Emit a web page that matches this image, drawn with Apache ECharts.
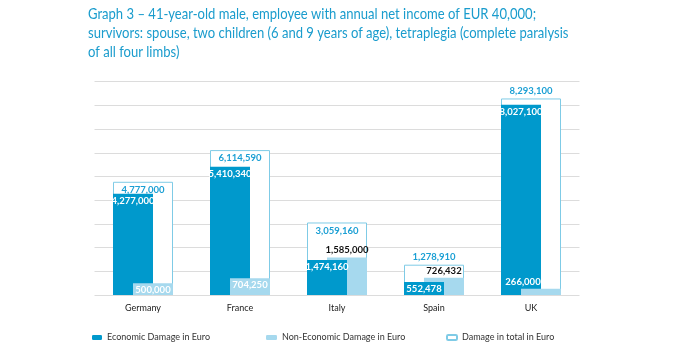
<!DOCTYPE html>
<html><head><meta charset="utf-8">
<script src="https://cdn.jsdelivr.net/npm/echarts@6/dist/echarts.min.js"></script>
<style>html,body{margin:0;padding:0;background:#fff}#c{width:674px;height:350px}</style>
</head><body><div id="c"></div>
<script>
var categories = ['Germany', 'France', 'Italy', 'Spain', 'UK'];
var economic = [4277000, 5410340, 1474160, 552478, 8027100];
var nonEconomic = [500000, 704250, 1585000, 726432, 266000];
var total = [4777000, 6114590, 3059160, 1278910, 8293100];
var seriesNames = ['Economic Damage in Euro', 'Non-Economic Damage in Euro', 'Damage in total in Euro'];
var titleText = 'Graph 3 \u2013 41-year-old male, employee with annual net income of EUR 40,000;\nsurvivors: spouse, two children (6 and 9 years of age), tetraplegia (complete paralysis\nof all four limbs)';

var DARK = '#0099cc', LIGHT = '#a6d9ee', BORDER = '#7fcbe6', TOTALTXT = '#1a9fd4';
function fmt(v){ return v.toLocaleString('en-US'); }

var totalPos = ['insideTop','insideTop','insideTop','top','top'];
var nonEcoStyle = [
  {position:'insideTop', color:'#fff'},
  {position:'insideTop', color:'#fff'},
  {position:'top', color:'#111'},
  {position:'top', color:'#111'},
  {position:'top', color:'#fff', offset:[-18, 0]}
];

// where the economic bar is the smaller one it is painted in front
var econFront = economic.map(function(v,i){ return v < nonEconomic[i] ? v : '-'; });
var econBack = economic.map(function(v,i){ return v < nonEconomic[i] ? {value:v, label:{show:false}} : v; });

var font = 'Lato';
var chart = echarts.init(document.getElementById('c'));
var lbl = function(){ return {show:true, fontSize:9.5, fontWeight:'bold', fontFamily:font, formatter:function(p){return fmt(p.value);}}; };
chart.setOption({
  animation:false,
  graphic:[{type:'text', x:88, y:5, scaleX:0.87, silent:true,
    style:{text:titleText, fill:'#1a9ccd', font:'15px Lato', lineHeight:19}}],
  grid:{left:94.5, width:485, top:81.7, bottom:55},
  legend:[
    {data:[seriesNames[0]], left:87, top:328, itemWidth:10, itemHeight:5, textStyle:{fontSize:9, color:'#333', fontFamily:font}},
    {data:[seriesNames[1]], left:261, top:328, itemWidth:11, itemHeight:5, textStyle:{fontSize:9, color:'#333', fontFamily:font}},
    {data:[seriesNames[2]], left:441, top:328, itemWidth:10, itemHeight:5, textStyle:{fontSize:9, color:'#333', fontFamily:font}}
  ],
  xAxis:[
    {type:'category', data:categories, axisLine:{show:false}, axisTick:{show:false},
     axisLabel:{color:'#222', fontSize:9, fontFamily:font, margin:9}},
    {type:'category', data:categories, show:false},
    {type:'category', data:categories, show:false}
  ],
  yAxis:{type:'value', min:0, max:9000000, interval:1000000, axisLabel:{show:false},
    axisLine:{show:false}, axisTick:{show:false}, splitLine:{lineStyle:{color:'#dcdcdc', width:1}}},
  series:[
    {name:seriesNames[2], type:'bar', xAxisIndex:1, barWidth:60,
     itemStyle:{color:'#fff', borderColor:BORDER, borderWidth:1},
     data: total.map(function(v,i){ return {value:v, label:{position:totalPos[i]}}; }),
     label:Object.assign(lbl(), {color:TOTALTXT, distance:3})},
    {name:seriesNames[0], type:'bar', xAxisIndex:0, barWidth:40, barGap:'-50%',
     itemStyle:{color:DARK},
     data: econBack,
     label:Object.assign(lbl(), {position:'insideTop', color:'#fff', distance:2})},
    {name:seriesNames[1], type:'bar', xAxisIndex:0, barWidth:40, barGap:'-50%',
     itemStyle:{color:LIGHT},
     data: nonEconomic.map(function(v,i){ var s=nonEcoStyle[i]; var l={position:s.position, color:s.color}; if(s.offset) l.offset=s.offset; return {value:v, label:l}; }),
     label:Object.assign(lbl(), {distance:2})},
    {name:seriesNames[0], type:'bar', xAxisIndex:2, barWidth:40, barGap:'-50%',
     itemStyle:{color:DARK},
     data: econFront,
     label:Object.assign(lbl(), {position:'insideTop', color:'#fff', distance:2})},
    {name:'_pad', type:'bar', xAxisIndex:2, barWidth:40, barGap:'-50%',
     data: categories.map(function(){ return '-'; })}
  ]
});
</script></body></html>
